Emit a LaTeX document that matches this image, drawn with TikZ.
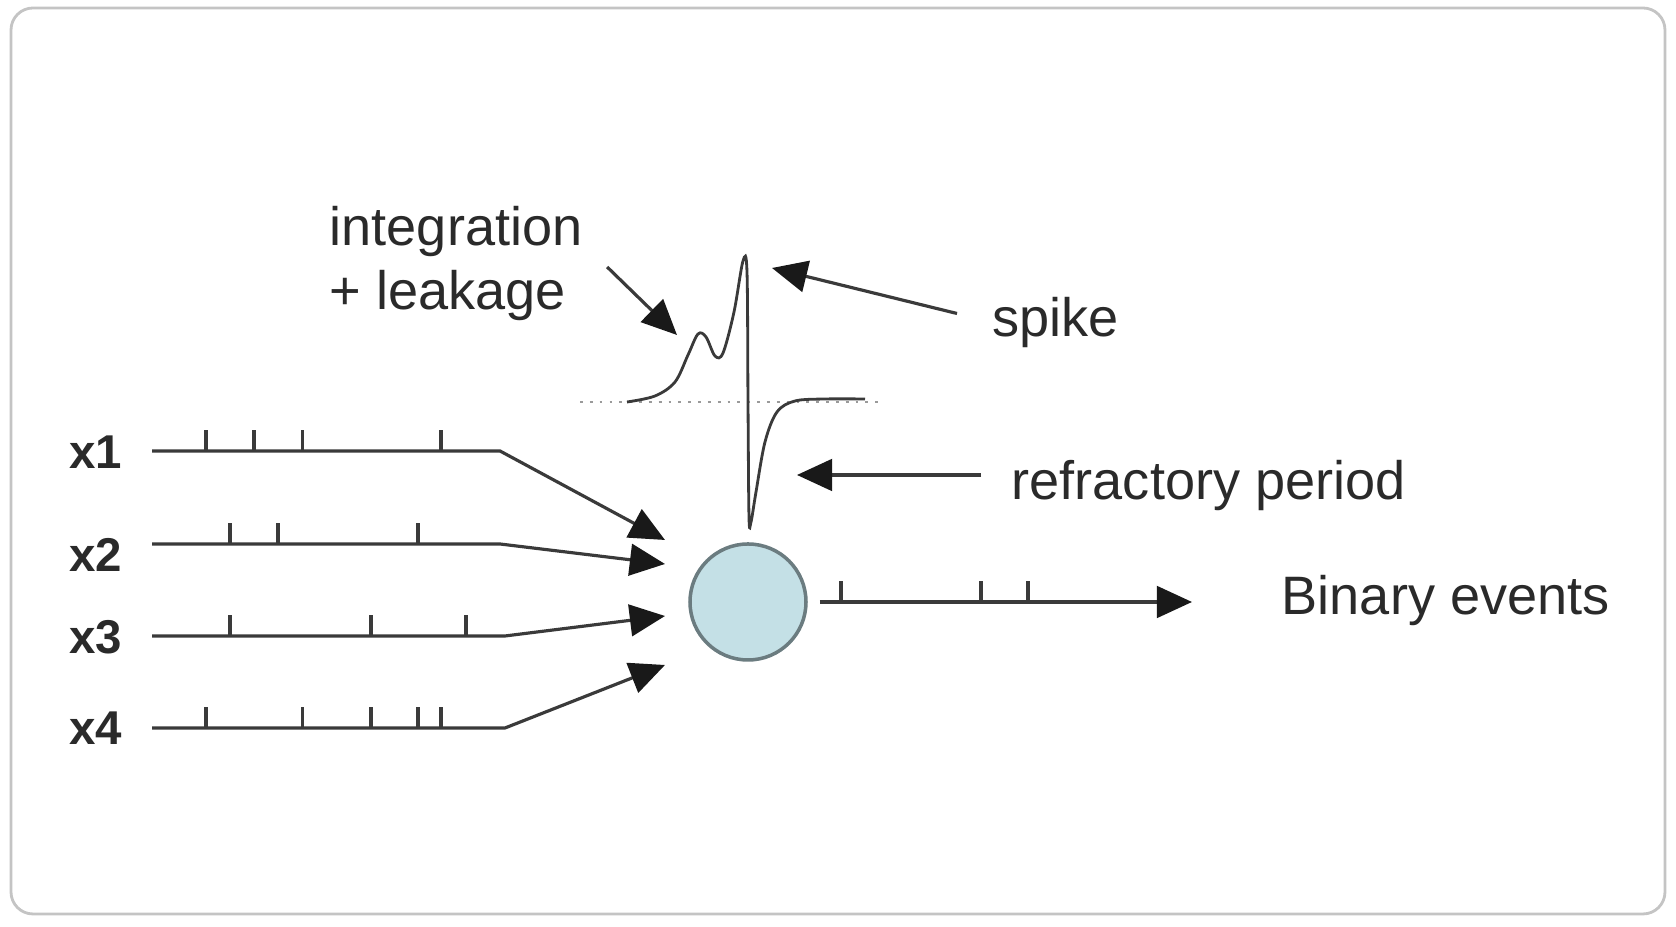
\documentclass[tikz,border=0pt]{standalone}
\usepackage{fontspec}
\setmainfont{Liberation Sans}
\usepackage{xcolor}
\definecolor{colLine}{HTML}{3A3A3A}
\definecolor{colText}{HTML}{2A2A2A}
\definecolor{colCell}{HTML}{C4E0E6}
\definecolor{colCellEdge}{HTML}{6B7C80}
\definecolor{colFrame}{HTML}{C4C4C4}
\definecolor{colBase}{HTML}{9A9A9A}
\usetikzlibrary{arrows.meta, positioning, calc}

\begin{document}
\begin{tikzpicture}[
    train/.style={colLine, line width=0.9pt},
    pointer/.style={colLine, line width=0.9pt, -{Triangle[length=10pt,width=9pt,color=black!90]}},
    lbl/.style={colText, font=\fontsize{15.4}{18.2}\selectfont, inner sep=0pt},
    inlbl/.style={colText, font=\fontsize{13.5}{15}\selectfont\bfseries, inner sep=0pt}
  ]
        % Cornice
        \useasboundingbox (0,0) rectangle (16.76,9.27);
        \draw[colFrame, line width=0.8pt, rounded corners=0.22cm, fill=white] (0.11,0.13) rectangle (16.65,9.19);
        % Neurone
        \node[circle, draw=colCellEdge, fill=colCell, line width=1pt, minimum size=1.16cm, inner sep=0pt] (neuron) at (7.48,3.25) {};
        % Ingressi x1..x4
        \foreach \n/\yy/\ly/\bx/\ty/\ticks in {1/4.76/4.75/5.00/3.87/{2.06,2.54,3.025,4.41},
                                              2/3.83/3.72/5.00/3.63/{2.30,2.78,4.18},
                                              3/2.91/2.90/5.05/3.11/{2.30,3.71,4.66},
                                              4/1.99/1.99/5.05/2.62/{2.06,3.025,3.71,4.18,4.41}}{
            \node[inlbl] (x\n) at (0.96,\ly) {x\n};
            \coordinate (start\n) at (1.52,\yy);
            \coordinate (bend\n) at (\bx,\yy);
            \coordinate (tip\n) at (6.65,\ty);
            \draw[pointer] (start\n) -- (bend\n) -- (tip\n);
            \foreach \tx in \ticks {\draw[train] (\tx,\yy) -- ++(0,0.21);}
        }
        % Uscita
        \coordinate (outtip) at (11.92,3.25);
        \draw[pointer, shorten <=0.12cm] (neuron) -- (outtip);
        \foreach \tx in {8.41,9.81,10.28}{\draw[train] (\tx,3.25) -- ++(0,0.21);}
        \node[lbl, anchor=west] (binary) at (12.81,3.26) {Binary events};
        % Potenziale di membrana
        \draw[colBase, dotted, line width=0.8pt] (5.80,5.25) -- (8.83,5.25);
        \draw[colLine, line width=0.8pt] plot[smooth, tension=0.55] coordinates {
            (6.27,5.25) (6.55,5.31) (6.75,5.45) (6.88,5.72) (6.98,5.93) (7.06,5.90)
            (7.15,5.71) (7.23,5.74) (7.34,6.15) (7.43,6.66) (7.47,6.55) (7.48,5.25)
            (7.49,4.10) (7.51,4.05) (7.56,4.35) (7.65,4.85) (7.77,5.15) (7.95,5.26)
            (8.25,5.28) (8.65,5.28)};
        % Etichette e frecce
        \node[lbl, anchor=west, align=left] (integr) at (3.29,6.635) {integration\\+ leakage};
        \node[lbl, anchor=west] (spike) at (9.92,6.045) {spike};
        \node[lbl, anchor=west] (refr) at (10.11,4.41) {refractory period};
        \coordinate (bumppt) at (6.77,5.92);
        \coordinate (peakpt) at (7.72,6.59);
        \coordinate (refrpt) at (7.97,4.52);
        \draw[pointer] ([shift={(0.24,-0.035)}]integr.east) -- (bumppt);
        \draw[pointer] ([shift={(-0.35,0.09)}]spike.west) -- (peakpt);
        \draw[pointer, shorten <=0.3cm] (refr.west |- refrpt) -- (refrpt);
\end{tikzpicture}
\end{document}
